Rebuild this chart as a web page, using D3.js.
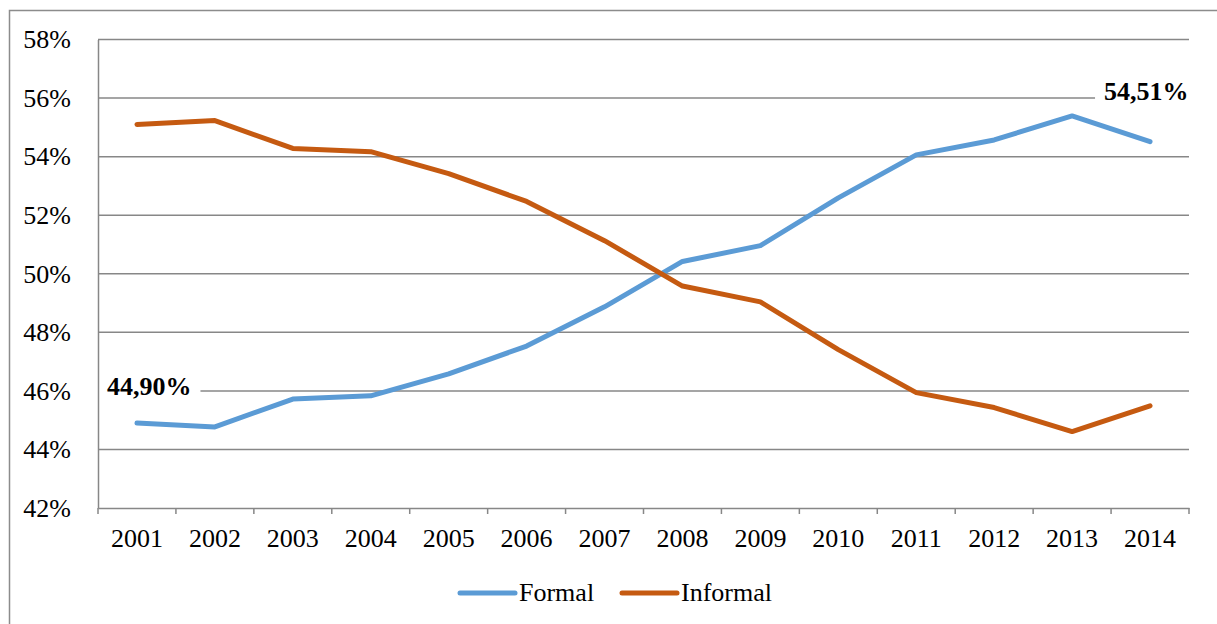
<!DOCTYPE html>
<html>
<head>
<meta charset="utf-8">
<script src="https://cdn.jsdelivr.net/npm/d3@7"></script>
<style>
  html, body { margin: 0; padding: 0; background: #fff; }
  svg { display: block; font-family: "Liberation Serif", "Times New Roman", serif; }
</style>
</head>
<body>
<svg id="chart" width="1217" height="624"></svg>
<script>
// Share of employment, formal vs informal, 2001–2014
const years = ["2001","2002","2003","2004","2005","2006","2007","2008","2009","2010","2011","2012","2013","2014"];
const formal   = [44.90, 44.77, 45.72, 45.83, 46.58, 47.53, 48.87, 50.42, 50.96, 52.59, 54.06, 54.57, 55.39, 54.51];
const informal = [55.10, 55.23, 54.28, 54.17, 53.42, 52.47, 51.13, 49.58, 49.04, 47.41, 45.94, 45.43, 44.61, 45.49];
const yTicks = [42, 44, 46, 48, 50, 52, 54, 56, 58];
const seriesNames = ["Formal", "Informal"];
const colors = ["#5B9BD5", "#C55A11"];

const FONT = "Liberation Serif, Times New Roman, serif";
const FS = 26;

const svg = d3.select("#chart");
const margin = { left: 98, right: 1189, top: 39.5, bottom: 508 };

// outer frame
svg.append("path")
  .attr("d", "M9.5,624 V10.5 H1217")
  .attr("fill", "none").attr("stroke", "#8c8c8c").attr("stroke-width", 1.5);

const x = d3.scaleBand().domain(years).range([margin.left, margin.right]);
const y = d3.scaleLinear().domain([42, 58]).range([margin.bottom, margin.top]);

// horizontal gridlines
svg.append("g").selectAll("line").data(yTicks.slice(1)).join("line")
  .attr("x1", margin.left).attr("x2", margin.right)
  .attr("y1", d => y(d)).attr("y2", d => y(d))
  .attr("stroke", "#878787").attr("stroke-width", 1.5);

// lines
const line = d3.line()
  .x((d, i) => x(years[i]) + x.bandwidth() / 2)
  .y(d => y(d));
[formal, informal].forEach((s, k) => {
  svg.append("path").datum(s)
    .attr("d", line)
    .attr("fill", "none")
    .attr("stroke", colors[k])
    .attr("stroke-width", 5)
    .attr("stroke-linejoin", "round")
    .attr("stroke-linecap", "round");
});

// value labels on the first and last Formal points
const fmt = v => v.toFixed(2).replace(".", ",") + "%";
const labels = [
  { i: 0, v: formal[0], dx: -30, dy: -28 },
  { i: years.length - 1, v: formal[years.length - 1], dx: -46, dy: -42 }
];
labels.forEach(l => {
  const cx = x(years[l.i]) + x.bandwidth() / 2 + l.dx;
  const cy = y(l.v) + l.dy;
  const t = svg.append("text")
    .attr("x", cx).attr("y", cy)
    .attr("font-size", FS).attr("font-weight", "bold").attr("font-family", FONT)
    .attr("text-anchor", "start")
    .text(fmt(l.v));
  const bb = t.node().getBBox();
  const x0 = Math.max(bb.x - 9, margin.left + 1);
  const x1 = Math.min(bb.x + bb.width + 9, margin.right + 1);
  svg.insert("rect", () => t.node())
    .attr("x", x0).attr("y", bb.y + 2)
    .attr("width", x1 - x0).attr("height", bb.height - 4)
    .attr("fill", "#fff");
});

// y axis
const yAxis = svg.append("g").attr("transform", `translate(${margin.left},0)`)
  .call(d3.axisLeft(y).tickValues(yTicks).tickFormat(d => d + "%").tickSize(0).tickPadding(27));
yAxis.select(".domain").attr("stroke", "#878787").attr("stroke-width", 1.5);
yAxis.attr("font-size", FS).attr("font-family", FONT);
yAxis.selectAll("text").attr("fill", "#000");

// x axis with ticks on category boundaries
const xAxis = svg.append("g").attr("transform", `translate(0,${margin.bottom})`)
  .call(d3.axisBottom(x).tickSize(0).tickPadding(21));
xAxis.select(".domain").attr("stroke", "#878787").attr("stroke-width", 1.5);
xAxis.attr("font-size", FS).attr("font-family", FONT);
xAxis.selectAll("text").attr("fill", "#000");
const bounds = years.map(d => x(d)).concat([x(years[years.length - 1]) + x.bandwidth()]);
xAxis.selectAll("line.bound").data(bounds).join("line").attr("class", "bound")
  .attr("x1", d => d).attr("x2", d => d).attr("y1", 0).attr("y2", 6)
  .attr("stroke", "#878787").attr("stroke-width", 1.5);

// legend
const legend = svg.append("g");
const legendItems = [
  { x0: 460, name: seriesNames[0], c: colors[0] },
  { x0: 622, name: seriesNames[1], c: colors[1] }
];
legendItems.forEach(it => {
  legend.append("line")
    .attr("x1", it.x0).attr("x2", it.x0 + 55)
    .attr("y1", 593).attr("y2", 593)
    .attr("stroke", it.c).attr("stroke-width", 5).attr("stroke-linecap", "round");
  legend.append("text")
    .attr("x", it.x0 + 59).attr("y", 601)
    .attr("font-size", FS).attr("font-family", FONT)
    .text(it.name);
});
</script>
</body>
</html>
